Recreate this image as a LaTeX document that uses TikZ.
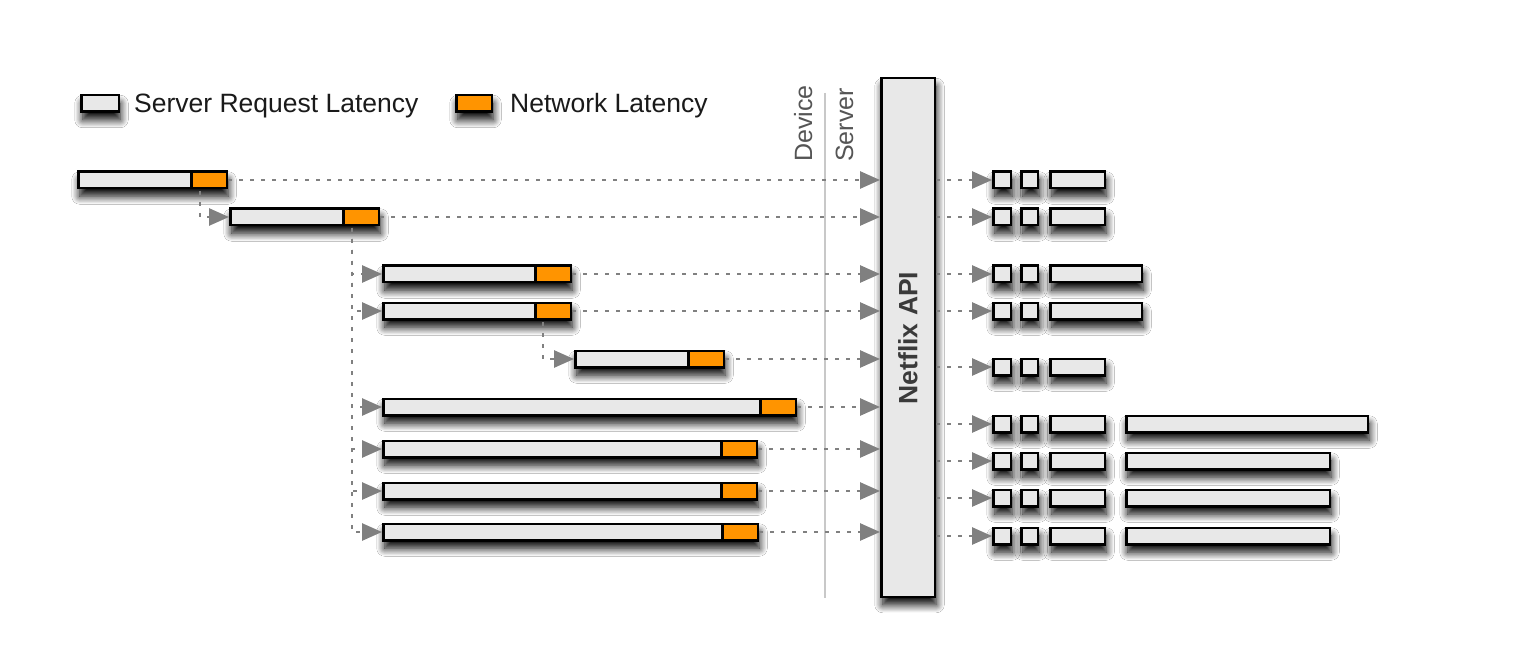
\documentclass[tikz,border=0pt]{standalone}
\usepackage{fontspec}
\setmainfont{Liberation Sans}
\usetikzlibrary{arrows.meta,shadows.blur,calc}
\definecolor{barg}{HTML}{E8E8E8}
\definecolor{baro}{RGB}{255,148,0}
\definecolor{conng}{HTML}{808080}
\definecolor{divg}{HTML}{C8C8C8}
\definecolor{txtd}{HTML}{1A1A1A}
\definecolor{txtg}{HTML}{555555}
\definecolor{txta}{HTML}{3A3A3A}
\newcommand\legfont{\fontsize{26.5}{30}\selectfont}
\newcommand\sidefont{\fontsize{25}{28}\selectfont}
\newcommand\apifont{\fontsize{26.5}{30}\selectfont\bfseries}
\tikzset{
  shad/.style={blur shadow={shadow xshift=1.5pt, shadow yshift=-8pt, shadow blur radius=8pt, shadow blur steps=14, shadow opacity=100}},
  box/.style={draw=black, line width=2.5pt, fill=barg, inner sep=0pt, minimum height=16.5pt, shad},
  obox/.style={draw=black, line width=2.5pt, fill=baro, inner sep=0pt, minimum height=16.5pt},
  conn/.style={draw=conng, line width=2.6pt, dash pattern=on 4pt off 7pt, -{Triangle[length=20pt,width=17pt,fill=conng]}},
  divider/.style={draw=divg, line width=1.5pt},
}
% name, left x, center y, total width, orange width
\newcommand\mkbar[5]{%
  \node[box, anchor=west, minimum width=#4pt-2.5pt] (#1) at (#2,#3) {};
  \node[obox, anchor=east, minimum width=#5pt-2.5pt] (#1o) at (#1.east) {};
}
% name, center y, width of third box
\newcommand\mkrow[3]{%
  \node[box, anchor=west, minimum width=17.5pt] (#1a) at (992,#2) {};
  \node[box, anchor=west, minimum width=16.5pt] (#1b) at (1020,#2) {};
  \node[box, anchor=west, minimum width=#3pt-2.5pt] (#1c) at (1049,#2) {};
  \draw[conn] (api.east |- #1a.west) -- (#1a.west);
}
\begin{document}
\begin{tikzpicture}[x=1pt,y=-1pt]
\useasboundingbox[fill=white] (0,0) rectangle (1528,652);

% legend
\node[box, anchor=west, minimum width=37.5pt] (lg) at (80,103.5) {};
\node[anchor=base west, inner sep=0pt, font=\legfont, text=txtd] (lgt) at (134,113) {Server Request Latency};
\node[obox, shad, anchor=west, minimum width=35.5pt] (lo) at (455,103.5) {};
\node[anchor=base west, inner sep=0pt, font=\legfont, text=txtd] (lot) at (510,113) {Network Latency};

% divider and side labels
\coordinate (dtop) at (825,93);
\coordinate (dbot) at (825,598);
\draw[divider] (dtop) -- (dbot);
\node[rotate=90, anchor=base west, inner sep=0pt, font=\sidefont, text=txtg] (dev) at (812,162) {Device};
\node[rotate=90, anchor=base west, inner sep=0pt, font=\sidefont, text=txtg] (srv) at (853,162) {Server};

% API box
\node[box, anchor=north west, minimum width=53.5pt, minimum height=518.5pt] (api) at (880,77) {};
\node[rotate=90, font=\apifont, text=txta, inner sep=0pt] (apil) at (908,338) {Netflix API};

% request bars
\mkbar{r1}{77}{180}{151}{38}
\mkbar{r2}{229}{217}{151}{38}
\mkbar{r3}{382}{274}{190}{38}
\mkbar{r4}{382}{311}{190}{38}
\mkbar{r5}{574}{359}{151}{38}
\mkbar{r6}{382}{407}{415}{38}
\mkbar{r7}{382}{449}{376}{38}
\mkbar{r8}{382}{491}{376}{38}
\mkbar{r9}{382}{532}{377}{38}

% dependency connectors
\coordinate (e1) at (200,191);
\coordinate (e2) at (352,228);
\coordinate (e3) at (543,322);
\draw[conn] (e1) |- (r2.west);
\foreach \r in {r3,r4,r6,r7,r8,r9}{
  \draw[conn] (e2) |- (\r.west);
}
\draw[conn] (e3) |- (r5.west);

% to API
\foreach \r in {r1,r2,r3,r4,r5,r6,r7,r8,r9}{
  \draw[conn] (\r.east) -- (\r.east -| api.west);
}

% server side rows
\mkrow{q1}{180}{57}
\mkrow{q2}{217}{57}
\mkrow{q3}{274}{94}
\mkrow{q4}{311}{94}
\mkrow{q5}{367}{57}
\mkrow{q6}{424}{57}
\mkrow{q7}{461}{57}
\mkrow{q8}{498}{57}
\mkrow{q9}{536}{57}
\node[box, anchor=west, minimum width=241.5pt] (q6d) at (1125,424) {};
\node[box, anchor=west, minimum width=203.5pt] (q7d) at (1125,461) {};
\node[box, anchor=west, minimum width=203.5pt] (q8d) at (1125,498) {};
\node[box, anchor=west, minimum width=203.5pt] (q9d) at (1125,536) {};
\end{tikzpicture}
\end{document}
